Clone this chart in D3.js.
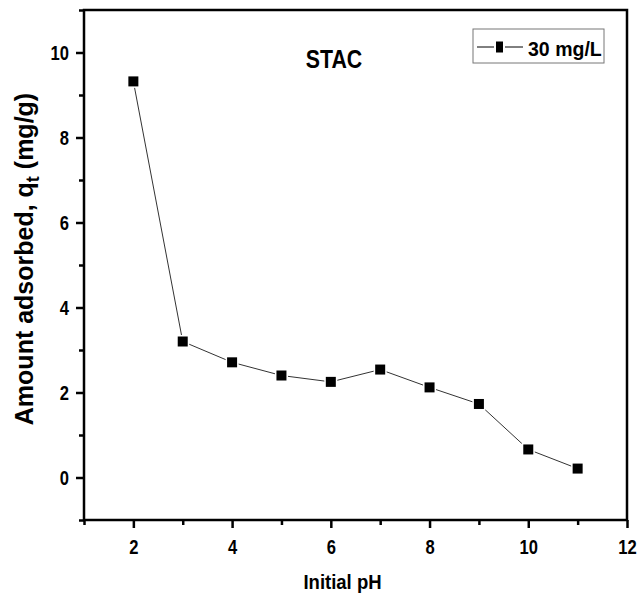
<!DOCTYPE html>
<html>
<head>
<meta charset="utf-8">
<script src="https://cdn.jsdelivr.net/npm/d3@7"></script>
<style>
  body { margin: 0; background: #fff; }
  svg text { font-family: "Liberation Sans", Arial, sans-serif; font-weight: bold; fill: #000; }
</style>
</head>
<body>
<div id="chart"></div>
<script>
// initial pH vs amount adsorbed (mg/g)
const phValues = [2, 3, 4, 5, 6, 7, 8, 9, 10, 11];
const adsorbed = [9.32, 3.2, 2.71, 2.4, 2.25, 2.54, 2.12, 1.73, 0.66, 0.21];
const xTicks = [2, 4, 6, 8, 10, 12];
const yTicks = [0, 2, 4, 6, 8, 10];
const seriesName = '30 mg/L';

const width = 638, height = 599;
const margin = { top: 10, right: 11, bottom: 79, left: 84 };
const narrow = 0.85; // squeeze text horizontally like the original

const svg = d3.select('#chart').append('svg')
    .attr('width', width)
    .attr('height', height);

const x = d3.scaleLinear().domain([1, 12]).range([margin.left, width - margin.right]);
const y = d3.scaleLinear().domain([-1, 11]).range([height - margin.bottom, margin.top]);

// frame
svg.append('rect')
    .attr('x', x(1)).attr('y', y(11))
    .attr('width', x(12) - x(1)).attr('height', y(-1) - y(11))
    .attr('fill', 'none').attr('stroke', '#000').attr('stroke-width', 2.5);

// x axis
const xAxis = svg.append('g').attr('transform', `translate(0,${y(-1)})`)
    .call(d3.axisBottom(x).tickValues(d3.range(1, 13)).tickSize(6)
        .tickFormat(d => xTicks.includes(d) ? d : ''));
xAxis.select('.domain').remove();
xAxis.selectAll('line').attr('stroke-width', 2.5)
    .attr('y2', d => xTicks.includes(d) ? 8 : 5);
xAxis.selectAll('text').attr('font-size', 19.5).attr('y', 34).attr('dy', null)
    .attr('transform', `scale(${narrow},1)`);

// y axis
const yAxis = svg.append('g').attr('transform', `translate(${x(1)},0)`)
    .call(d3.axisLeft(y).tickValues(d3.range(-1, 12)).tickSize(6)
        .tickFormat(d => yTicks.includes(d) ? d : ''));
yAxis.select('.domain').remove();
yAxis.selectAll('line').attr('stroke-width', 2.5)
    .attr('x2', d => yTicks.includes(d) ? -8 : -5);
yAxis.selectAll('text').attr('font-size', 19.5).attr('x', -15 / narrow).attr('dy', '0.36em')
    .attr('transform', `scale(${narrow},1)`);

// axis titles
svg.append('text')
    .attr('transform', `translate(${(x(1) + x(12)) / 2 - 13},589) scale(0.95,1)`)
    .attr('text-anchor', 'middle').attr('font-size', 19.5)
    .text('Initial pH');

const yTitle = svg.append('text')
    .attr('transform', `translate(33,259) rotate(-90)`)
    .attr('text-anchor', 'middle').attr('font-size', 25);
yTitle.append('tspan').text('Amount adsorbed, q');
yTitle.append('tspan').attr('dy', 6).attr('font-size', 18).text('t');
yTitle.append('tspan').attr('dy', -6).text(' (mg/g)');

// title
svg.append('text')
    .attr('transform', 'translate(334,68) scale(0.82,1)')
    .attr('text-anchor', 'middle').attr('font-size', 26)
    .text('STAC');

// line
const line = d3.line().x((d, i) => x(phValues[i])).y(d => y(d));
svg.append('path').datum(adsorbed)
    .attr('d', line)
    .attr('fill', 'none').attr('stroke', '#333').attr('stroke-width', 1);

// markers
svg.selectAll('.pt').data(adsorbed).enter().append('rect')
    .attr('class', 'pt')
    .attr('x', (d, i) => x(phValues[i]) - 5)
    .attr('y', d => y(d) - 5)
    .attr('width', 10).attr('height', 10)
    .attr('fill', '#000').attr('stroke', '#fff').attr('stroke-width', 3)
    .attr('paint-order', 'stroke');

// legend
const lg = svg.append('g').attr('transform', 'translate(473,29)');
lg.append('rect').attr('width', 131).attr('height', 34)
    .attr('fill', '#fff').attr('stroke', '#777').attr('stroke-width', 1);
lg.append('line').attr('x1', 4).attr('x2', 50).attr('y1', 18).attr('y2', 18)
    .attr('stroke', '#000').attr('stroke-width', 1);
lg.append('rect').attr('x', 23).attr('y', 12.5).attr('width', 7).attr('height', 11)
    .attr('fill', '#000').attr('stroke', '#fff').attr('stroke-width', 4).attr('paint-order', 'stroke');
lg.append('text').attr('transform', 'translate(55,27) scale(0.93,1)').attr('font-size', 21).text(seriesName);
</script>
</body>
</html>
